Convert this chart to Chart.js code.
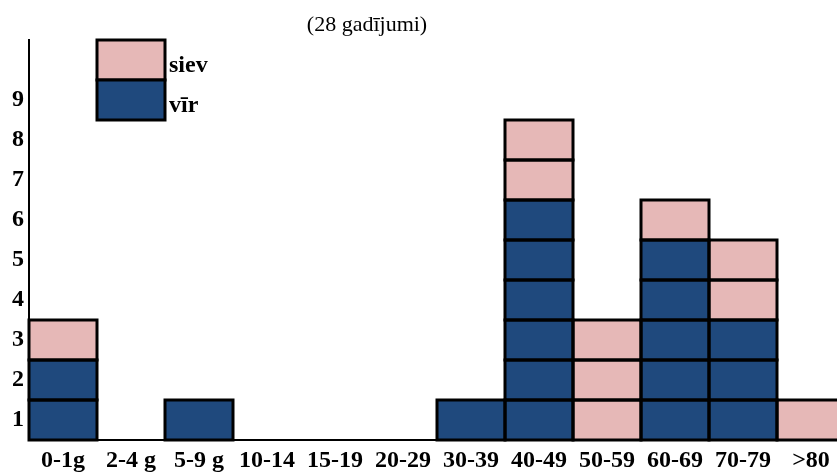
<!DOCTYPE html>
<html>
<head>
<meta charset="utf-8">
<script src="https://cdn.jsdelivr.net/npm/chart.js@4/dist/chart.umd.min.js"></script>
<style>
html,body{margin:0;padding:0;background:#fff;overflow:hidden;}
#wrap{position:relative;width:860px;height:475px;}
</style>
</head>
<body>
<div id="wrap"><canvas id="c" width="860" height="475"></canvas></div>
<script>
const categories = ['0-1g','2-4 g','5-9 g','10-14','15-19','20-29','30-39','40-49','50-59','60-69','70-79','>80'];
const virValues  = [2,0,1,0,0,0,1,6,0,5,3,0];
const sievValues = [1,0,0,0,0,0,0,2,3,1,2,1];
const yTickLabels = ['1','2','3','4','5','6','7','8','9'];
const seriesNames = ['siev','vīr'];
const titleText = '(28 gadījumi)';

const COL_VIR = '#1F497D';
const COL_SIEV = '#E6B8B7';
const FONT = '"Liberation Serif", "Times New Roman", serif';

// one stacked dataset per unit cell so each cell has its own outline
const datasets = [];
const maxVir = Math.max(...virValues);
for (let k = 1; k <= maxVir; k++) {
  datasets.push({
    label: seriesNames[1],
    data: virValues.map(v => v >= k ? 1 : null),
    backgroundColor: COL_VIR, borderWidth: 0,
    stack: 's'
  });
}
const maxSiev = Math.max(...sievValues);
for (let k = 1; k <= maxSiev; k++) {
  datasets.push({
    label: seriesNames[0],
    data: sievValues.map(v => v >= k ? 1 : null),
    backgroundColor: COL_SIEV, borderWidth: 0,
    stack: 's'
  });
}

// outline every bar cell with a centred 3px stroke so shared edges stay 3px
const outlines = {
  id: 'outlines',
  afterDatasetsDraw(chart) {
    const ctx = chart.ctx;
    ctx.save();
    ctx.strokeStyle = '#000';
    ctx.lineWidth = 3;
    chart.data.datasets.forEach((ds, di) => {
      const meta = chart.getDatasetMeta(di);
      meta.data.forEach((el, i) => {
        if (ds.data[i] == null) return;
        const p = el.getProps(['x', 'y', 'base', 'width'], true);
        ctx.strokeRect(p.x - p.width / 2, p.y, p.width, p.base - p.y);
      });
    });
    ctx.restore();
  }
};

const extras = {
  id: 'extras',
  afterDraw(chart) {
    const ctx = chart.ctx;
    const xs = chart.scales.x, ys = chart.scales.y;
    ctx.save();
    ctx.fillStyle = '#000';
    ctx.font = '22px ' + FONT;
    ctx.textAlign = 'center';
    ctx.textBaseline = 'alphabetic';
    ctx.fillText(titleText, 367, 31);
    // legend boxes aligned with the 2nd category column and top units
    const cx = xs.getPixelForValue(1);
    const half = (xs.getPixelForValue(1) - xs.getPixelForValue(0)) / 2;
    const items = [
      {name: seriesNames[0], color: COL_SIEV, top: 10, bot: 9},
      {name: seriesNames[1], color: COL_VIR, top: 9, bot: 8}
    ];
    items.forEach(it => {
      const y1 = ys.getPixelForValue(it.top), y2 = ys.getPixelForValue(it.bot);
      ctx.fillStyle = it.color;
      ctx.fillRect(cx - half, y1, half * 2, y2 - y1);
      ctx.strokeStyle = '#000';
      ctx.lineWidth = 3;
      ctx.strokeRect(cx - half, y1, half * 2, y2 - y1);
      ctx.fillStyle = '#000';
      ctx.font = 'bold 24px ' + FONT;
      ctx.textAlign = 'left';
      ctx.textBaseline = 'alphabetic';
      ctx.fillText(it.name, cx + half + 4, y2 - 8);
    });
    ctx.restore();
  }
};

new Chart(document.getElementById('c'), {
  type: 'bar',
  data: { labels: categories, datasets },
  options: {
    responsive: false,
    animation: false,
    layout: { padding: { top: 40, right: 15, left: 0, bottom: 0 } },
    plugins: { legend: { display: false }, title: { display: false }, tooltip: { enabled: false } },
    datasets: { bar: { barPercentage: 1, categoryPercentage: 1 } },
    scales: {
      x: {
        stacked: true,
        grid: { display: false, drawTicks: false, tickLength: 0 },
        border: { display: true, color: '#000', width: 2 },
        ticks: { color: '#000', font: { family: FONT, size: 24, weight: 'bold' }, maxRotation: 0, minRotation: 0, autoSkip: false, padding: 6 },
        afterFit(s) { s.height = 35; }
      },
      y: {
        stacked: true,
        min: 0, max: 10,
        grid: { display: false, drawTicks: false, tickLength: 0 },
        border: { display: true, color: '#000', width: 2 },
        afterBuildTicks(s) { s.ticks = yTickLabels.map((l, i) => ({ value: i + 0.5 })); },
        ticks: {
          color: '#000', font: { family: FONT, size: 24, weight: 'bold' }, padding: 5,
          callback: (v, i) => yTickLabels[i]
        },
        afterFit(s) { s.width = 29; }
      }
    }
  },
  plugins: [outlines, extras]
});
</script>
</body>
</html>
